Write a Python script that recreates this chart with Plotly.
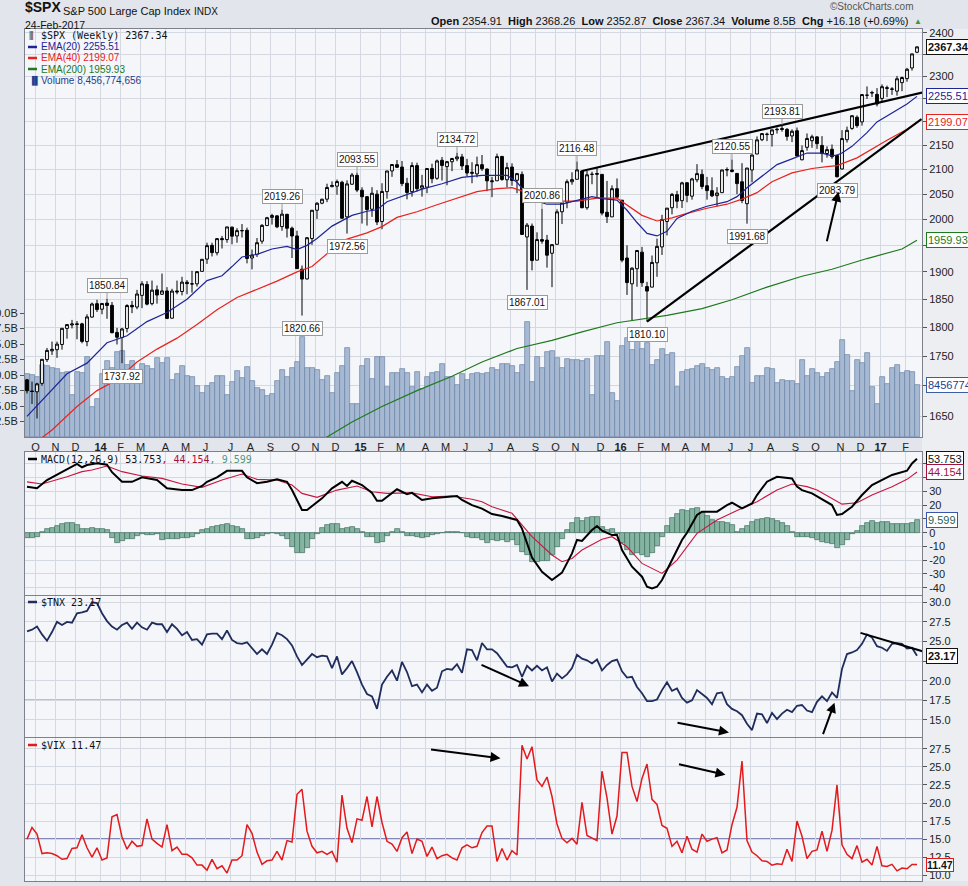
import numpy as np
import pandas as pd
import plotly.graph_objects as go

# ---------------- data (weekly bars, week index 0 = 27-Sep-2013) ----------------
dates = pd.date_range("2013-09-27", periods=179, freq="W-FRI")
weeks = list(range(len(dates)))

spx_open = [
    1709.9, 1691.4, 1690.0, 1704.0, 1744.0, 1759.0, 1761.0, 1770.0, 1798.0, 1804.0,
    1806.0, 1806.0, 1775.0, 1818.0, 1842.0, 1832.0, 1843.0, 1839.0, 1791.0, 1782.0,
    1798.0, 1839.0, 1836.0, 1857.0, 1877.0, 1842.0, 1867.0, 1859.0, 1865.0, 1816.0,
    1865.0, 1864.0, 1881.0, 1878.0, 1878.0, 1901.0, 1924.0, 1950.0, 1936.0, 1963.0,
    1961.0, 1985.0, 1968.0, 1978.0, 1979.0, 1926.0, 1933.0, 1958.0, 1988.0, 2004.0,
    2007.0, 1986.0, 2010.0, 1983.0, 1968.0, 1905.0, 1887.0, 1963.0, 2018.0, 2032.0,
    2040.0, 2065.0, 2066.0, 2074.0, 2005.0, 2070.0, 2088.0, 2058.0, 2045.0, 2020.0,
    2050.0, 1996.0, 2055.0, 2097.0, 2110.0, 2105.0, 2072.0, 2055.0, 2108.0, 2062.0,
    2064.0, 2102.0, 2082.0, 2119.0, 2106.0, 2116.0, 2122.0, 2126.0, 2108.0, 2092.0,
    2091.0, 2110.0, 2101.0, 2075.0, 2077.0, 2127.0, 2079.0, 2105.0, 2078.0, 2090.0,
    1966.0, 1987.0, 1922.0, 1961.0, 1960.0, 1935.0, 1952.0, 2015.0, 2034.0, 2075.0,
    2080.0, 2097.0, 2023.0, 2090.0, 2090.0, 2090.0, 2014.0, 2005.0, 2061.0, 2038.0,
    1926.0, 1878.0, 1906.0, 1937.0, 1873.0, 1872.0, 1917.0, 1947.0, 1996.0, 2023.0,
    2049.0, 2037.0, 2073.0, 2046.0, 2079.0, 2090.0, 2067.0, 2057.0, 2047.0, 2053.0,
    2100.0, 2099.0, 2092.0, 2075.0, 2031.0, 2099.0, 2132.0, 2162.0, 2173.0, 2173.0,
    2183.0, 2186.0, 2184.0, 2170.0, 2181.0, 2120.0, 2146.0, 2160.0, 2168.0, 2150.0,
    2133.0, 2142.0, 2129.0, 2101.0, 2162.0, 2186.0, 2210.0, 2200.0, 2258.0, 2263.0,
    2260.0, 2251.0, 2273.0, 2272.0, 2267.0, 2286.0, 2295.0, 2319.0, 2354.91]
spx_high = [
    1711.5, 1707.0, 1705.0, 1745.0, 1764.0, 1775.0, 1775.0, 1798.2, 1804.8, 1813.0,
    1811.0, 1808.0, 1823.0, 1844.0, 1849.0, 1843.0, 1850.8, 1845.0, 1799.0, 1799.0,
    1841.0, 1847.0, 1867.0, 1883.0, 1883.0, 1884.0, 1875.0, 1897.0, 1872.0, 1869.0,
    1884.0, 1891.0, 1885.0, 1902.0, 1901.0, 1924.0, 1955.0, 1955.0, 1964.0, 1968.0,
    1985.6, 1986.0, 1983.0, 1991.0, 1984.0, 1942.0, 1964.0, 1991.0, 2005.0, 2011.0,
    2008.0, 2019.3, 2011.0, 1986.0, 1978.0, 1912.0, 1966.0, 2018.2, 2034.0, 2041.0,
    2071.0, 2075.8, 2079.5, 2077.0, 2077.9, 2093.0, 2093.5, 2064.0, 2046.0, 2064.0,
    2058.0, 2072.0, 2097.0, 2110.6, 2119.6, 2117.5, 2083.0, 2114.9, 2114.0, 2089.0,
    2103.0, 2111.9, 2120.5, 2125.9, 2117.7, 2123.9, 2134.7, 2132.3, 2121.9, 2115.0,
    2126.6, 2130.0, 2102.0, 2085.0, 2132.8, 2128.0, 2114.0, 2112.7, 2093.0, 2096.0,
    1993.0, 1992.0, 1975.0, 2020.9, 1970.0, 1952.0, 2020.0, 2034.0, 2079.7, 2094.3,
    2116.5, 2099.0, 2097.0, 2095.6, 2104.3, 2090.4, 2076.7, 2067.7, 2081.6, 2038.0,
    1950.0, 1908.9, 1940.3, 1947.0, 1881.6, 1930.7, 1962.9, 2009.0, 2022.4, 2052.4,
    2056.6, 2075.0, 2074.0, 2083.0, 2111.0, 2099.9, 2084.9, 2084.0, 2064.0, 2099.1,
    2104.3, 2120.6, 2092.0, 2113.0, 2103.0, 2131.0, 2169.0, 2175.6, 2177.0, 2183.0,
    2188.0, 2193.8, 2187.0, 2184.0, 2187.9, 2150.0, 2175.3, 2172.7, 2169.6, 2169.6,
    2148.0, 2152.0, 2131.0, 2182.3, 2189.9, 2213.4, 2214.0, 2259.8, 2277.5, 2268.0,
    2273.8, 2282.1, 2279.3, 2276.0, 2301.0, 2299.4, 2319.2, 2351.3, 2368.26]
spx_low = [
    1687.1, 1670.0, 1646.5, 1700.0, 1740.0, 1752.0, 1747.0, 1761.0, 1780.0, 1798.0,
    1779.0, 1772.0, 1767.0, 1817.0, 1827.0, 1823.0, 1815.0, 1790.0, 1770.0, 1737.9,
    1791.0, 1825.0, 1832.0, 1834.0, 1839.0, 1839.0, 1842.0, 1858.0, 1814.4, 1816.0,
    1859.0, 1857.0, 1859.0, 1862.0, 1873.0, 1901.0, 1915.0, 1929.0, 1931.0, 1944.0,
    1955.0, 1952.0, 1955.0, 1965.0, 1916.0, 1904.8, 1928.0, 1953.0, 1988.0, 1990.0,
    1983.0, 1978.0, 1965.0, 1926.0, 1906.0, 1820.7, 1886.0, 1951.0, 2001.0, 2030.0,
    2034.0, 2064.0, 2049.0, 2002.0, 1972.6, 2069.0, 2054.0, 1992.0, 1988.0, 2005.0,
    1989.0, 1980.9, 2041.0, 2085.0, 2103.0, 2066.0, 2039.7, 2045.0, 2055.0, 2045.0,
    2052.0, 2072.0, 2079.0, 2077.5, 2067.9, 2096.6, 2117.0, 2099.0, 2085.7, 2072.0,
    2084.0, 2097.0, 2056.0, 2044.0, 2077.0, 2077.0, 2063.5, 2067.0, 2052.0, 1970.9,
    1867.0, 1903.0, 1922.0, 1953.0, 1908.0, 1871.9, 1952.0, 1991.0, 2022.0, 2069.0,
    2080.0, 2022.0, 2019.0, 2070.0, 2042.0, 2008.0, 1993.0, 2005.0, 2043.0, 1918.0,
    1857.8, 1812.3, 1872.7, 1872.6, 1810.1, 1872.0, 1891.0, 1931.8, 1969.0, 2010.0,
    2022.0, 2022.5, 2033.8, 2039.0, 2074.0, 2060.0, 2039.0, 2044.0, 2025.7, 2053.0,
    2086.0, 2094.0, 2050.0, 2032.0, 1991.7, 2074.0, 2132.0, 2159.0, 2159.0, 2147.6,
    2175.0, 2179.0, 2160.0, 2157.0, 2127.8, 2119.1, 2139.0, 2145.0, 2142.6, 2114.7,
    2124.4, 2122.0, 2083.8, 2100.0, 2156.0, 2183.0, 2187.4, 2192.0, 2250.0, 2254.0,
    2233.6, 2245.0, 2254.0, 2258.8, 2257.0, 2267.0, 2288.0, 2313.0, 2352.87]
spx_close = [
    1691.75, 1690.50, 1703.20, 1744.50, 1759.77, 1761.64, 1770.61, 1798.18, 1804.76, 1805.81,
    1805.09, 1775.32, 1818.32, 1841.40, 1831.37, 1842.37, 1838.70, 1790.29, 1782.59, 1797.02,
    1838.63, 1836.25, 1859.45, 1878.04, 1841.13, 1866.52, 1857.62, 1865.09, 1815.69, 1864.85,
    1863.40, 1881.14, 1878.48, 1877.86, 1900.53, 1923.57, 1949.44, 1936.16, 1962.87, 1960.96,
    1985.44, 1967.57, 1978.22, 1978.34, 1925.15, 1931.59, 1955.06, 1988.40, 2003.37, 2007.71,
    1985.54, 2010.40, 1982.85, 1967.90, 1906.13, 1886.76, 1964.58, 2018.05, 2031.92, 2039.82,
    2063.50, 2067.56, 2075.37, 2002.33, 2070.65, 2088.77, 2058.20, 2044.81, 2019.42, 2051.82,
    1994.99, 2055.47, 2096.99, 2110.30, 2104.50, 2071.26, 2053.40, 2108.10, 2061.02, 2066.96,
    2102.06, 2081.18, 2117.69, 2108.29, 2116.10, 2122.73, 2126.06, 2107.39, 2092.83, 2094.11,
    2109.99, 2101.49, 2076.78, 2076.62, 2126.64, 2079.65, 2103.84, 2077.57, 2091.54, 1970.89,
    1988.87, 1921.22, 1961.05, 1958.03, 1931.34, 1951.36, 2014.89, 2033.11, 2075.15, 2079.36,
    2099.20, 2023.04, 2089.17, 2090.11, 2091.69, 2012.37, 2005.55, 2060.99, 2043.94, 1922.03,
    1880.33, 1906.90, 1940.24, 1880.05, 1864.78, 1917.78, 1948.05, 1999.99, 2022.19, 2049.58,
    2035.94, 2072.78, 2047.60, 2080.73, 2091.58, 2065.30, 2057.14, 2046.61, 2052.32, 2099.06,
    2099.13, 2096.07, 2071.22, 2037.41, 2102.95, 2129.90, 2161.74, 2175.03, 2173.60, 2182.87,
    2184.05, 2183.87, 2169.04, 2179.98, 2127.81, 2139.16, 2164.69, 2168.27, 2153.74, 2132.98,
    2141.16, 2126.41, 2085.18, 2164.45, 2181.90, 2213.35, 2191.95, 2259.53, 2258.07, 2263.79,
    2238.83, 2276.98, 2274.64, 2271.31, 2294.69, 2297.42, 2316.10, 2351.16, 2367.34]
spx_volume_bn = [
    10.2, 10.0, 9.6, 11.6, 11.5, 11.1, 10.9, 10.4, 10.5, 6.7,
    10.5, 10.3, 12.9, 4.9, 6.1, 10.2, 12.3, 11.1, 13.7, 13.8,
    11.6, 12.3, 10.8, 11.8, 11.5, 11.0, 12.7, 12.0, 12.8, 9.2,
    10.2, 11.5, 9.8, 9.6, 8.3, 7.1, 8.2, 8.7, 9.9, 9.8,
    6.7, 8.9, 10.6, 9.5, 11.3, 9.1, 7.9, 7.6, 6.6, 6.9,
    9.0, 10.8, 9.6, 11.2, 12.1, 16.1, 11.2, 11.1, 10.8, 9.2,
    9.8, 7.1, 10.4, 11.5, 14.3, 5.4, 5.4, 11.5, 12.6, 9.4,
    12.9, 12.9, 8.1, 10.3, 10.3, 10.9, 10.3, 8.0, 10.5, 7.8,
    9.6, 10.3, 10.5, 11.8, 9.6, 9.6, 8.4, 10.2, 9.2, 10.2,
    10.3, 10.1, 10.3, 11.1, 10.8, 11.7, 11.7, 11.5, 10.4, 11.6,
    18.5, 8.9, 12.9, 11.2, 13.7, 13.9, 12.8, 11.2, 12.6, 12.5,
    12.5, 12.3, 12.6, 6.8, 13.0, 13.1, 15.4, 7.1, 5.8, 14.6,
    16.0, 14.1, 17.4, 14.2, 15.2, 11.6, 12.5, 14.2, 13.2, 13.5,
    8.0, 10.5, 10.8, 11.0, 11.4, 11.8, 11.2, 10.8, 11.2, 9.7,
    9.3, 9.7, 11.3, 13.0, 14.3, 8.7, 9.8, 9.8, 11.1, 11.0,
    8.7, 9.2, 9.0, 9.0, 8.6, 12.5, 9.8, 11.0, 10.4, 9.7,
    10.4, 11.0, 12.1, 15.6, 13.2, 7.4, 12.5, 11.9, 13.5, 8.0,
    5.3, 9.7, 8.5, 11.1, 11.6, 10.3, 10.7, 10.5, 8.46]

# moving averages at the listed weeks
ema20_wk = [0, 4, 8, 12, 16, 20, 24, 28, 32, 36, 39, 41, 43, 46, 49, 52, 54, 56, 58, 61, 63, 65, 68, 70,
            72, 75, 79, 83, 87, 91, 96, 98, 100, 102, 104, 107, 109, 111, 113, 115, 118, 120, 122, 124,
            126, 128, 130, 133, 136, 140, 142, 144, 147, 150, 153, 156, 159, 161, 162, 163, 165, 168,
            170, 173, 176, 178]
ema20_val = [1650, 1684, 1720, 1738, 1773, 1785, 1810, 1826, 1850, 1884, 1893, 1910, 1928, 1933, 1943,
             1948, 1942, 1950, 1963, 1987, 1997, 2008, 2016, 2019, 2035, 2046, 2060, 2071, 2084, 2088,
             2088, 2074, 2050, 2036, 2030, 2030, 2035, 2040, 2045, 2041, 2038, 2018, 1994, 1973, 1968,
             1977, 2002, 2016, 2026, 2035, 2045, 2063, 2087, 2110, 2122, 2134, 2134, 2128, 2130, 2134,
             2148, 2177, 2200, 2220, 2239, 2255.51]
ema40_wk = [0, 5, 10, 14, 18, 22, 26, 30, 34, 38, 42, 46, 50, 54, 57, 60, 64, 68, 71, 74, 78, 82, 86,
            90, 94, 97, 100, 104, 110, 114, 118, 120, 123, 126, 129, 132, 136, 140, 143, 146, 149, 153,
            157, 160, 162, 166, 169, 172, 176, 178]
ema40_val = [1598, 1628, 1666, 1692, 1710, 1740, 1762, 1781, 1805, 1831, 1853, 1868, 1883, 1900, 1910,
             1934, 1962, 1974, 1986, 2004, 2015, 2029, 2042, 2055, 2061, 2063, 2053, 2036, 2036, 2042,
             2042, 2028, 2008, 1997, 2003, 2012, 2022, 2030, 2040, 2053, 2075, 2093, 2102, 2106, 2108,
             2124, 2143, 2161, 2184, 2199.07]
ema200_wk = [56, 60, 65, 71, 78, 85, 91, 98, 105, 111, 118, 121, 128, 135, 141, 148, 155, 161, 168, 175, 178]
ema200_val = [1600, 1617, 1641, 1666, 1692, 1716, 1740, 1763, 1777, 1792, 1808, 1812, 1821, 1833, 1849,
              1872, 1892, 1905, 1925, 1943, 1959.93]

macd_wk = [0, 2, 4, 6, 9, 10, 11, 12, 14, 16, 17, 19, 21, 23, 26, 28, 31, 33, 35, 36, 38, 40, 43, 44,
           46, 48, 50, 52, 53, 55, 56, 59, 61, 63, 64, 65, 67, 69, 70, 71, 74, 76, 77, 79, 81, 83, 86,
           87, 89, 91, 93, 95, 98, 99, 101, 103, 105, 107, 109, 110, 111, 113, 114, 115, 117, 118, 119,
           121, 123, 124, 125, 126, 127, 129, 131, 132, 134, 135, 138, 140, 141, 143, 145, 146, 148,
           150, 153, 154, 155, 157, 161, 162, 163, 165, 167, 169, 171, 173, 176, 177, 178]
macd_val = [33.5, 32.3, 38.3, 42.0, 48.0, 50.0, 47.6, 49.2, 50.5, 49.5, 44.0, 37.0, 37.0, 40.3, 38.3,
            32.3, 31.0, 31.0, 34.0, 37.0, 40.3, 45.0, 45.0, 40.3, 36.0, 37.0, 38.8, 37.0, 31.0, 16.5,
            16.5, 25.0, 32.3, 37.0, 34.0, 37.8, 34.7, 29.0, 23.3, 23.3, 31.6, 28.1, 29.0, 23.8, 25.0,
            25.7, 26.7, 23.8, 20.1, 17.5, 13.6, 12.1, 9.3, 3.0, -18.0, -28.4, -34.4, -29.0, -15.0, -5.3,
            -6.0, 1.9, 4.9, 1.5, -1.7, -1.7, -12.6, -24.7, -32.0, -39.3, -40.5, -39.3, -34.4, -19.9,
            -5.3, 0.0, 12.9, 15.3, 15.3, 20.1, 21.8, 17.7, 21.3, 27.4, 37.1, 40.7, 39.5, 33.5, 31.0,
            28.6, 20.1, 12.9, 13.6, 18.9, 27.4, 34.7, 38.3, 42.0, 45.1, 50.4, 53.753]
signal_wk = [0, 3, 8, 11, 13, 16, 19, 23, 27, 31, 35, 39, 43, 46, 50, 53, 55, 58, 62, 66, 69, 72, 77,
             81, 85, 89, 91, 93, 97, 101, 105, 107, 109, 111, 115, 117, 120, 123, 127, 130, 134, 138,
             142, 146, 150, 153, 156, 158, 161, 163, 166, 169, 173, 176, 178]
signal_val = [37.0, 35.4, 40.7, 44.4, 45.6, 48.5, 44.4, 41.2, 39.5, 35.4, 33.0, 38.3, 42.7, 38.8, 38.3,
              34.7, 28.6, 25.7, 31.0, 34.0, 29.8, 28.6, 29.0, 26.2, 26.7, 24.3, 22.5, 18.9, 14.1, -2.9,
              -16.2, -21.1, -18.7, -12.6, -4.8, -2.9, -10.2, -22.3, -29.6, -19.9, -0.5, 9.3, 16.1, 22.6,
              31.0, 35.4, 33.5, 31.0, 24.9, 20.8, 21.8, 27.4, 33.5, 38.8, 44.154]
macd_hist = [
    -3.6, -3.6, -3.0, 0.5, 2.4, 3.6, 4.8, 6.0, 6.8, 6.8,
    5.3, 2.4, 2.9, 3.6, 2.9, 2.9, 1.9, -3.6, -7.3, -6.0,
    -4.8, -4.4, -2.4, -1.2, -2.0, -2.0, -1.2, -5.3, -4.8, -4.4,
    -4.4, -3.6, -3.6, -2.9, -1.2, 1.9, 2.9, 4.4, 4.8, 5.3,
    6.0, 4.8, 4.4, 2.9, -4.4, -4.4, -3.6, -2.4, -1.0, -0.5,
    -1.2, -2.4, -4.4, -10.2, -14.5, -14.5, -10.9, -4.8, -1.2, 3.6,
    5.3, 6.5, 6.5, 2.9, 3.6, 4.4, 2.4, 0.5, -2.9, -2.9,
    -7.3, -6.8, -2.4, 0.5, 2.4, 0.5, -2.4, -2.4, -3.1, -3.6,
    -2.9, -1.9, -1.2, -0.5, 0.2, 0.2, 0.7, -0.5, -3.1, -3.6,
    -3.6, -5.5, -7.8, -5.3, -5.8, -5.3, -6.5, -5.3, -9.0, -13.8,
    -16.2, -21.0, -21.0, -20.4, -20.4, -16.2, -10.2, -4.8, 1.9, 7.3,
    10.4, 8.7, 10.4, 11.2, 11.2, 3.9, 1.9, 2.4, -1.0, -7.8,
    -12.6, -16.2, -15.0, -16.2, -17.5, -15.0, -9.7, -2.9, 4.8, 10.4,
    13.6, 16.5, 16.0, 17.0, 17.7, 14.5, 12.1, 9.2, 8.0, 8.0,
    7.3, 5.6, 0.7, 2.4, 4.8, 8.0, 9.2, 9.9, 10.4, 9.7,
    8.7, 7.3, 4.8, 0.7, -3.4, -3.4, -3.4, -4.1, -5.3, -6.5,
    -7.8, -8.2, -11.4, -9.0, -5.3, -1.2, 1.5, 4.8, 7.3, 8.5,
    7.3, 8.0, 8.0, 6.3, 6.3, 6.3, 6.3, 7.3, 9.599]

tnx = [
    26.3, 26.5, 26.9, 25.9, 25.1, 26.2, 27.5, 27.1, 27.5, 27.4,
    28.6, 28.7, 28.9, 30.0, 29.9, 28.6, 27.6, 26.9, 26.5, 27.1,
    27.4, 26.6, 27.4, 26.8, 26.5, 27.4, 27.2, 27.2, 26.2, 27.2,
    26.6, 25.8, 26.2, 25.2, 25.3, 24.6, 25.9, 26.0, 26.0, 25.3,
    26.4, 25.2, 24.8, 24.7, 24.9, 24.2, 23.4, 24.0, 23.4, 24.6,
    26.1, 25.8, 25.3, 24.5, 23.1, 22.0, 22.7, 23.4, 23.0, 23.2,
    23.1, 21.6, 23.1, 20.8, 21.6, 22.5, 21.1, 19.5, 18.3, 18.0,
    16.4, 19.5, 20.5, 21.3, 20.0, 22.4, 21.1, 19.3, 19.5, 18.5,
    19.5, 18.7, 19.1, 21.2, 21.5, 21.4, 22.1, 21.0, 24.0, 23.9,
    22.6, 24.8, 24.0, 24.0, 23.5, 22.6, 21.8, 21.7, 22.0, 20.5,
    21.9, 21.3, 21.9, 21.3, 21.7, 19.9, 20.9, 20.3, 20.8, 21.6,
    23.3, 22.8, 22.6, 22.2, 22.7, 21.3, 22.0, 22.5, 22.7, 21.2,
    20.4, 20.5, 19.2, 18.4, 17.4, 17.4, 17.6, 18.8, 19.8, 18.7,
    19.0, 17.8, 17.2, 17.5, 18.8, 18.3, 17.8, 17.0, 18.4, 18.5,
    17.0, 16.4, 16.1, 15.6, 14.5, 13.7, 15.8, 15.7, 14.6, 15.9,
    15.1, 15.8, 16.3, 16.0, 16.8, 16.9, 16.2, 16.0, 17.3, 18.0,
    17.4, 18.5, 17.8, 21.5, 23.4, 23.6, 23.9, 24.7, 25.9, 25.5,
    24.4, 24.2, 23.8, 24.7, 24.8, 24.7, 24.1, 24.2, 23.17]
vix = [
    15.0, 16.6, 15.7, 13.0, 13.1, 13.0, 12.7, 12.2, 12.3, 13.7,
    13.8, 15.6, 13.8, 12.5, 13.8, 12.1, 12.4, 18.1, 18.4, 15.3,
    13.6, 14.7, 14.0, 14.1, 17.8, 15.0, 14.4, 13.9, 17.0, 13.4,
    13.9, 12.9, 12.9, 12.4, 11.4, 11.4, 10.7, 12.2, 10.9, 11.3,
    10.3, 12.1, 12.1, 12.7, 17.0, 15.8, 13.2, 11.5, 12.0, 12.1,
    13.3, 12.1, 14.8, 14.6, 21.2, 21.9, 16.1, 14.0, 13.1, 13.3,
    12.9, 13.3, 11.8, 21.1, 16.5, 14.5, 17.8, 17.6, 20.9, 16.7,
    20.9, 17.3, 14.7, 14.3, 13.3, 15.2, 16.0, 13.0, 15.0, 14.7,
    12.6, 13.9, 12.3, 12.7, 12.9, 12.4, 12.1, 13.8, 14.2, 13.8,
    14.0, 15.9, 16.8, 16.8, 11.9, 13.7, 12.1, 13.4, 12.8, 28.0,
    26.1, 27.8, 23.2, 22.3, 23.6, 20.9, 17.1, 15.1, 14.5, 15.1,
    14.3, 20.1, 15.5, 15.1, 14.8, 24.4, 20.7, 15.7, 18.2, 27.0,
    27.0, 22.3, 20.2, 23.4, 25.4, 20.5, 19.8, 16.9, 16.5, 14.0,
    14.7, 13.1, 15.4, 13.6, 13.2, 15.7, 14.7, 15.0, 15.2, 13.1,
    13.5, 17.0, 19.4, 25.8, 14.8, 13.2, 12.7, 12.0, 11.9, 11.4,
    11.6, 11.5, 13.6, 11.9, 17.5, 15.4, 12.3, 13.3, 13.5, 16.1,
    13.3, 16.2, 22.5, 14.2, 12.9, 12.3, 14.1, 11.8, 12.2, 11.4,
    14.0, 11.3, 11.2, 11.5, 10.6, 11.0, 10.9, 11.5, 11.47]

# labelled highs / lows: (week, value, side)
extremes = [(16, 1850.84, "up"), (19, 1737.92, "dn"), (51, 2019.26, "up"), (55, 1820.66, "dn"),
            (66, 2093.55, "up"), (64, 1972.56, "dn"), (86, 2134.72, "up"), (100, 1867.01, "dn"),
            (103, 2020.86, "up"), (110, 2116.48, "up"), (124, 1810.10, "dn"), (141, 2120.55, "up"),
            (144, 1991.68, "dn"), (151, 2193.81, "up"), (162, 2083.79, "dn")]
# hand-drawn trend lines: (week_a, week_b, value_a, value_b)
trend_price = [(111.0, 179.3, 2097.0, 2264.5), (124.0, 178.9, 1810.0, 2206.0)]
trend_tnx = [(166.7, 179.4, 26.1, 23.7)]
# hand-drawn arrows: (y-axis, head week, head value, tail dx px, tail dy px)
arrows = [("y2", 162.3, 2055.0, -12, 51), ("y4", 100.4, 19.3, -49, -22), ("y4", 140.4, 13.4, -53, -10),
          ("y4", 161.5, 17.2, -12, 33), ("y5", 94.7, 26.2, -71, -9), ("y5", 139.7, 23.9, -48, -11)]

assert all(len(s) == 179 for s in [spx_open, spx_high, spx_low, spx_close, spx_volume_bn, macd_hist, tnx, vix])

# ---------------- geometry helpers ----------------
W, H = 968, 886
L, R, T, B = 25, 46, 29, 5
PW, PH = W - L - R, H - T - B
def px(x):
    return (x - L) / PW
def py(y):
    return (H - B - y) / PH

SANS = "Liberation Sans"
MONO = "DejaVu Sans Mono"
GRID = "#d4d8e0"
FRAME = "#7c818b"
PLOTBG = "#f5f6fa"
PAPER = "#e2e5eb"

# month ticks: first week whose Monday falls in a new month
month_pos, month_txt, year_pos = [], [], []
prev = None
for i, d in enumerate(dates):
    mon = d - pd.Timedelta(days=4)
    key = (mon.year, mon.month)
    if prev is not None and key != prev:
        month_pos.append(i - 0.3)
        if mon.month == 1:
            month_txt.append("<b>%02d</b>" % (mon.year % 100))
            year_pos.append(i - 0.3)
        else:
            month_txt.append("JFMAMJJASOND"[mon.month - 1])
    prev = key

fig = go.Figure()

# volume (base axis y) then price (overlay y2)
fig.add_trace(go.Bar(x=weeks, y=spx_volume_bn, xaxis="x", yaxis="y",
                     marker=dict(color="#a7b9d2", line=dict(color="#6a83a6", width=0.7)),
                     hoverinfo="skip", showlegend=False))
fig.add_trace(go.Scatter(x=ema200_wk, y=ema200_val, xaxis="x", yaxis="y2", mode="lines",
                         line=dict(color="#1d7a1d", width=1.2), hoverinfo="skip", showlegend=False))
fig.add_trace(go.Scatter(x=ema40_wk, y=ema40_val, xaxis="x", yaxis="y2", mode="lines",
                         line=dict(color="#e8231d", width=1.2), hoverinfo="skip", showlegend=False))
fig.add_trace(go.Scatter(x=ema20_wk, y=ema20_val, xaxis="x", yaxis="y2", mode="lines",
                         line=dict(color="#1c2496", width=1.2), hoverinfo="skip", showlegend=False))
fig.add_trace(go.Candlestick(x=weeks, open=spx_open, high=spx_high, low=spx_low, close=spx_close,
                             xaxis="x", yaxis="y2", whiskerwidth=0,
                             increasing=dict(line=dict(color="black", width=1), fillcolor="white"),
                             decreasing=dict(line=dict(color="black", width=1), fillcolor="black"),
                             hoverinfo="skip", showlegend=False))
for xa, xb, va, vb in trend_price:
    fig.add_trace(go.Scatter(x=[xa, xb], y=[va, vb], xaxis="x", yaxis="y2", mode="lines",
                             line=dict(color="black", width=2.2), hoverinfo="skip", showlegend=False))

# MACD
fig.add_trace(go.Bar(x=weeks, y=macd_hist, xaxis="x2", yaxis="y3",
                     marker=dict(color="#86b4a3", line=dict(color="#3f6f5f", width=0.7)),
                     hoverinfo="skip", showlegend=False))
fig.add_trace(go.Scatter(x=signal_wk, y=signal_val, xaxis="x2", yaxis="y3", mode="lines",
                         line=dict(color="#c8163f", width=1.1), hoverinfo="skip", showlegend=False))
fig.add_trace(go.Scatter(x=macd_wk, y=macd_val, xaxis="x2", yaxis="y3", mode="lines",
                         line=dict(color="black", width=2), hoverinfo="skip", showlegend=False))

# TNX
fig.add_trace(go.Scatter(x=weeks, y=tnx, xaxis="x3", yaxis="y4", mode="lines",
                         line=dict(color="#1f2d5c", width=1.8), hoverinfo="skip", showlegend=False))
for xa, xb, va, vb in trend_tnx:
    fig.add_trace(go.Scatter(x=[xa, xb], y=[va, vb], xaxis="x3", yaxis="y4", mode="lines",
                             line=dict(color="black", width=2), hoverinfo="skip", showlegend=False))
# VIX
fig.add_trace(go.Scatter(x=weeks, y=vix, xaxis="x4", yaxis="y5", mode="lines",
                         line=dict(color="#e3191b", width=1.5), hoverinfo="skip", showlegend=False))

# ---------------- axes ----------------
xr = [-0.4, 179]
dom_price = [py(437), 1.0]
dom_macd = [py(595), py(452)]
dom_tnx = [py(738) + 0.001, py(596)]
dom_vix = [0.0, py(738)]

def xax(anchor, labels):
    return dict(domain=[0, 1], anchor=anchor, range=xr, tickvals=month_pos, ticktext=month_txt,
                showticklabels=labels, showgrid=True, gridcolor=GRID, gridwidth=1, ticks="",
                tickfont=dict(family=SANS, size=11, color="#222"), showline=True, mirror=True,
                linecolor=FRAME, linewidth=1, zeroline=False, rangeslider=dict(visible=False),
                automargin=False)

def yax(dom, anchor, rng, tv, tt=None, side="right", grid=True, fmt=None, typ="linear"):
    d = dict(domain=dom, anchor=anchor, range=rng, tickvals=tv, side=side, showgrid=grid,
             gridcolor=GRID, gridwidth=1, ticks="outside", ticklen=4, tickcolor="#555",
             tickfont=dict(family=SANS, size=11, color="#222"), showline=True, mirror=True,
             linecolor=FRAME, linewidth=1, zeroline=False, type=typ, automargin=False)
    if tt is not None:
        d["ticktext"] = tt
    if fmt:
        d["tickformat"] = fmt
    return d

def labels_except(vals, hidden, fmt):
    # tick labels that sit underneath a last-value box are left blank
    return ["" if v in hidden else fmt % v for v in vals]

vol_top = (437 - 29) / 6.2
vol_ticks = [2.5, 5, 7.5, 10, 12.5, 15, 17.5, 20]
price_ticks = list(range(1650, 2401, 50))
macd_ticks = list(range(-40, 51, 10))
tnx_ticks = [15, 17.5, 20, 22.5, 25, 27.5, 30]
vix_ticks = [10, 12.5, 15, 17.5, 20, 22.5, 25, 27.5]

layout = dict(
    width=W, height=H, margin=dict(l=L, r=R, t=T, b=B),
    paper_bgcolor=PAPER, plot_bgcolor=PLOTBG, hovermode=False,
    bargap=0, boxgap=0.2, showlegend=False, font=dict(family=SANS, size=11, color="#222"),
    xaxis=xax("y", True), xaxis2=xax("y3", False), xaxis3=xax("y4", False), xaxis4=xax("y5", True),
    yaxis=yax(dom_price, "x", [0, vol_top], vol_ticks, ["%.1fB" % v for v in vol_ticks],
              side="left", grid=False),
    yaxis2=yax(dom_price, "x", [np.log10(1617), np.log10(2409)], price_ticks,
               labels_except(price_ticks, {1700, 1950, 2200, 2250, 2350}, "%d"), typ="log"),
    yaxis3=yax(dom_macd, "x2", [-45.3, 58.7], macd_ticks,
               labels_except(macd_ticks, {10, 40, 50}, "%d")),
    yaxis4=yax(dom_tnx, "x3", [12.8, 30.8], tnx_ticks, labels_except(tnx_ticks, {22.5}, "%.1f")),
    yaxis5=yax(dom_vix, "x4", [9.2, 29.0], vix_ticks, fmt=".1f"),
)
layout["yaxis2"]["overlaying"] = "y"
fig.update_layout(**layout)

shapes = []
# darker year separators
for yp in year_pos:
    for xa, ya in [("x", "y"), ("x2", "y3"), ("x3", "y4"), ("x4", "y5")]:
        shapes.append(dict(type="line", xref=xa, yref=ya + " domain", x0=yp, x1=yp, y0=0, y1=1,
                           line=dict(color="#aab0bb", width=1), layer="below"))
# reference lines
shapes.append(dict(type="line", xref="x3 domain", yref="y4", x0=0, x1=1, y0=17.5, y1=17.5,
                   line=dict(color="#121a78", width=1.3), layer="below"))
shapes.append(dict(type="line", xref="x4 domain", yref="y5", x0=0, x1=1, y0=15, y1=15,
                   line=dict(color="#121a78", width=1.3), layer="below"))
# right label strip background
shapes.append(dict(type="rect", xref="paper", yref="paper", x0=1.0, x1=1.06, y0=0, y1=1,
                   fillcolor="#eceef2", line=dict(width=0), layer="below"))
# legend dashes
for yy, col in [(47, "#1c2496"), (58, "#e8231d"), (69, "#1d7a1d"), (459, "black"),
                (602, "#1f2d5c"), (745, "#e3191b")]:
    shapes.append(dict(type="line", xref="paper", yref="paper", x0=px(28), x1=px(37), y0=py(yy),
                       y1=py(yy), line=dict(color=col, width=2.5)))
fig.update_layout(shapes=shapes)

ann = []
def text(x, y, s, size=11, color="#222", family=SANS, xanchor="left", yanchor="middle"):
    ann.append(dict(xref="paper", yref="paper", x=px(x), y=py(y), text=s, showarrow=False,
                    xanchor=xanchor, yanchor=yanchor, font=dict(family=family, size=size, color=color)))

# header
text(23, 17, "<b>$SPX</b>", size=14, color="#111", yanchor="bottom")
text(61, 11, "S&P 500 Large Cap Index", size=11, color="#111")
text(192, 11, "INDX", size=10, color="#111")
text(23, 17, "24-Feb-2017", size=10.5, color="#111", yanchor="top")
text(916, 7, "©StockCharts.com", size=10, color="#555", xanchor="right")
text(910, 21, "<b>Open</b> 2354.91  <b>High</b> 2368.26  <b>Low</b> 2352.87  <b>Close</b> 2367.34  "
     "<b>Volume</b> 8.5B  <b>Chg</b> +16.18 (+0.69%)", size=11, color="#111", xanchor="right")
text(912, 21, "▲", size=8, color="#3a9a3a")

# panel legends
text(39, 36, "$SPX (Weekly) 2367.34", size=10, color="#111", family=MONO)
text(27, 36, "⫼", size=10, color="#111")
text(39, 47, "EMA(20) 2255.51", size=10, color="#1c2496")
text(39, 58, "EMA(40) 2199.07", size=10, color="#e8231d")
text(39, 69, "EMA(200) 1959.93", size=10, color="#1d7a1d")
text(27, 80, "▐▌", size=8, color="#1f3f8f")
text(39, 80, "Volume 8,456,774,656", size=10, color="#1f3f8f")
text(39, 459, "MACD(12,26,9) 53.753<span style='color:#a3123d'>, 44.154</span>"
     "<span style='color:#4f9a85'>, 9.599</span>", size=10, color="#111", family=MONO)
text(39, 602, "$TNX 23.17", size=10, color="#111", family=MONO)
text(39, 745, "$VIX 11.47", size=10, color="#111", family=MONO)

# labelled extremes
for wk, val, side in extremes:
    ann.append(dict(xref="x", yref="y2", x=wk, y=np.log10(val), text="%.2f" % val,
                    showarrow=True, arrowhead=0, arrowwidth=1, arrowcolor="#9a9a9a", standoff=0,
                    ax=0, ay=-13 if side == "up" else 13, bgcolor="white", bordercolor="#9a9a9a",
                    borderwidth=1, borderpad=1, font=dict(family=SANS, size=10, color="#111")))

# drawn arrows
xref_of = {"y2": "x", "y4": "x3", "y5": "x4"}
for ya, wk, val, dx, dy in arrows:
    yv = np.log10(val) if ya == "y2" else val
    ann.append(dict(xref=xref_of[ya], yref=ya, x=wk, y=yv, ax=dx, ay=dy, text="", showarrow=True,
                    arrowhead=2, arrowsize=1, arrowwidth=2, arrowcolor="black", standoff=0))

# last value boxes on the right axis
last_boxes = [("y2", np.log10(spx_close[-1]), "<b>2367.34</b>", "#111", "#111", 11),
              ("y2", np.log10(ema20_val[-1]), "2255.51", "#1c2496", "#1c2496", 11),
              ("y2", np.log10(ema40_val[-1]), "2199.07", "#e8231d", "#e8231d", 11),
              ("y2", np.log10(ema200_val[-1]), "1959.93", "#1d7a1d", "#1d7a1d", 11),
              ("y", spx_volume_bn[-1], "8456774656", "#1f3f8f", "#3a5fa0", 11),
              ("y3", macd_val[-1], "53.753", "#111", "#111", 11),
              ("y3", signal_val[-1], "44.154", "#a3123d", "#a3123d", 11),
              ("y3", macd_hist[-1], "9.599", "#2f5f52", "#3a55b0", 11),
              ("y4", tnx[-1], "<b>23.17</b>", "#111", "#111", 11),
              ("y5", vix[-1], "<b>11.47</b>", "#111", "#e3191b", 10.5)]
for ya, yv, s, fc, bc, fs in last_boxes:
    ann.append(dict(xref="paper", yref=ya, x=1.0 + 4 / PW, y=yv, text=s, showarrow=False,
                    xanchor="left", yanchor="middle", bgcolor="white", bordercolor=bc, borderwidth=1,
                    borderpad=1 if fs >= 11 else 0, font=dict(family=SANS, size=fs, color=fc)))

fig.update_layout(annotations=ann)
fig.write_html("out.html", config={"displayModeBar": False},
               post_script="document.body.style.margin='0px';document.body.style.background='%s';"
                           "document.documentElement.style.overflow='hidden';" % PAPER)
